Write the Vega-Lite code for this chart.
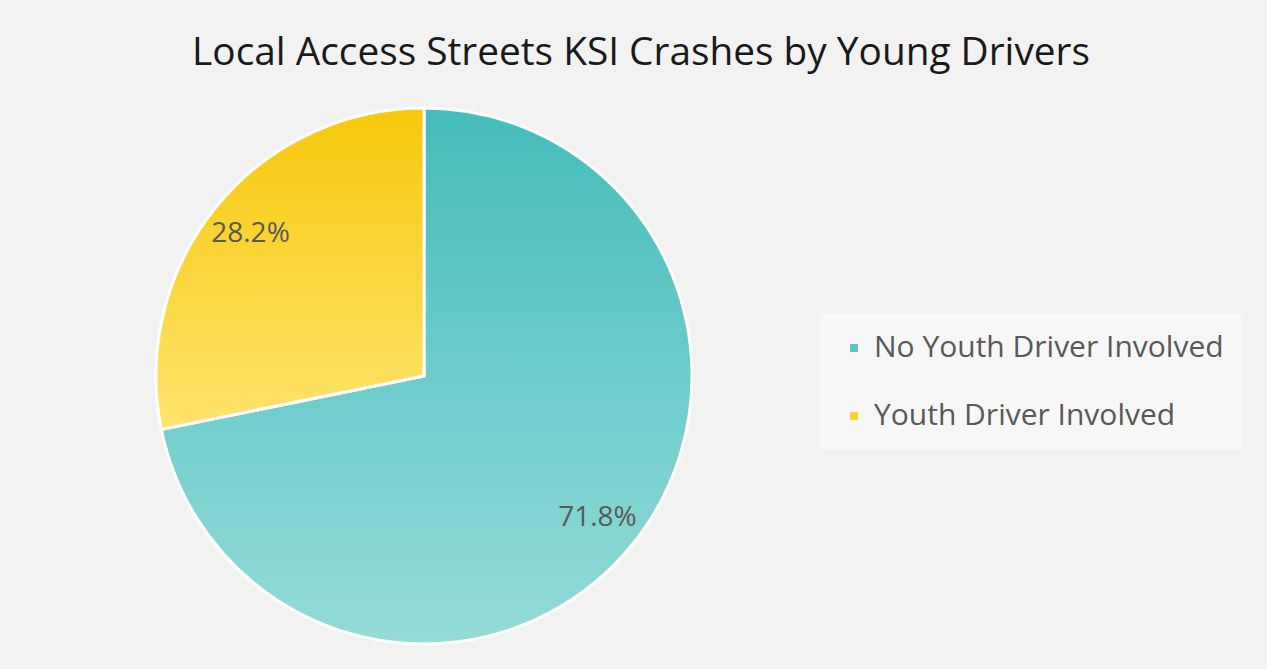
{
  "$schema": "https://vega.github.io/schema/vega-lite/v6.json",
  "autosize": "none",
  "width": 824,
  "height": 586,
  "padding": {"left": 12, "top": 83, "right": 431, "bottom": 0},
  "background": "#f2f2f2",
  "title": {
    "text": "Local Access Streets KSI Crashes by Young Drivers",
    "fontSize": 38.8,
    "font": "Open Sans",
    "fontWeight": "normal",
    "color": "#1a1a1a",
    "anchor": "middle",
    "dx": 217,
    "offset": 10
  },
  "data": {
    "values": [
      {"cat": "No Youth Driver Involved", "share": 0.718},
      {"cat": "Youth Driver Involved", "share": 0.282}
    ]
  },
  "encoding": {
    "theta": {"field": "share", "type": "quantitative", "stack": true},
    "order": {"field": "cat", "type": "ordinal", "sort": "ascending"}
  },
  "layer": [
    {
      "mark": {"type": "arc", "outerRadius": 268},
      "encoding": {
        "color": {
          "field": "cat",
          "type": "nominal",
          "scale": {
            "domain": ["No Youth Driver Involved", "Youth Driver Involved"],
            "range": ["#5cc6c5", "#f9d12e"]
          },
          "legend": {
            "orient": "none",
            "legendX": 808,
            "legendY": 231,
            "title": null,
            "fillColor": "#f7f7f7",
            "padding": 19,
            "symbolType": "square",
            "symbolSize": 64,
            "symbolStrokeWidth": 0,
            "labelFontSize": 30,
            "labelFont": "Open Sans",
            "labelColor": "#595959",
            "labelOffset": 5,
            "labelLimit": 600,
            "rowPadding": 38
          }
        }
      }
    },
    {
      "mark": {"type": "arc", "outerRadius": 268, "stroke": "white", "strokeWidth": 3},
      "encoding": {
        "fill": {
          "condition": {
            "test": "datum.cat === 'Youth Driver Involved'",
            "value": {
              "gradient": "linear", "x1": 0, "y1": 0, "x2": 0, "y2": 1,
              "stops": [{"offset": 0, "color": "#f7c80b"}, {"offset": 1, "color": "#fde46c"}]
            }
          },
          "value": {
            "gradient": "linear", "x1": 0, "y1": 0, "x2": 0, "y2": 1,
            "stops": [{"offset": 0, "color": "#43bdbc"}, {"offset": 1, "color": "#95dbd9"}]
          }
        }
      }
    },
    {
      "mark": {"type": "text", "radius": 224, "fontSize": 28, "font": "Open Sans", "color": "#595959"},
      "encoding": {
        "text": {"field": "share", "type": "quantitative", "format": ".1%"}
      }
    }
  ],
  "config": {"view": {"stroke": null}}
}
